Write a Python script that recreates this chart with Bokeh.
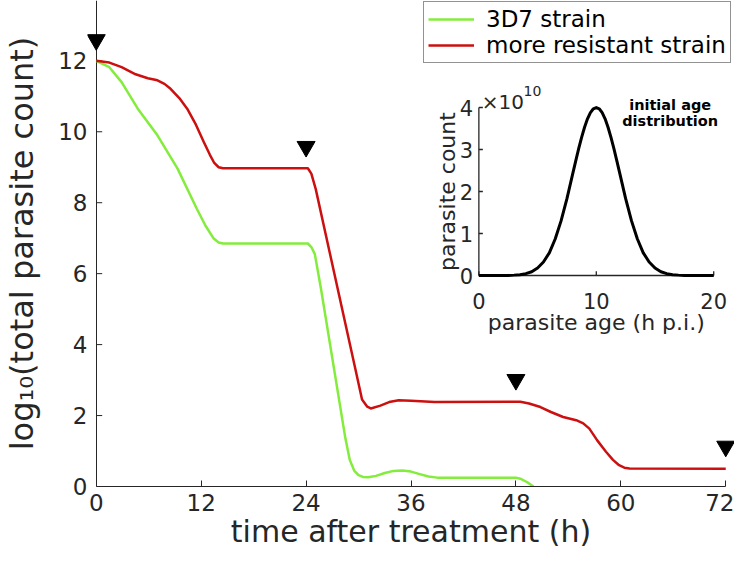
import math
from bokeh.plotting import figure
from bokeh.models import Range1d, Legend, LegendItem, FixedTicker
from bokeh.core.properties import value
from bokeh.embed import file_html
from bokeh.resources import INLINE

# ---------------- data ----------------
green_t = [0, 1.5, 2.9, 4.75, 7.0, 9.3, 11.5, 12.5, 13.4, 14.0, 14.5, 24.2, 24.6, 25.0, 25.7,
           28.5, 29.0, 29.5, 30.0, 30.5, 31.1, 32.0, 33.0, 34.0, 35.0, 36.0, 37.0, 38.0, 39.0,
           48.0, 48.5, 49.3, 50.0]
green_y = [12.0, 11.82, 11.4, 10.65, 9.9, 8.96, 7.83, 7.35, 7.0, 6.88, 6.85, 6.85, 6.75, 6.55, 5.58,
           1.35, 0.75, 0.45, 0.32, 0.27, 0.26, 0.3, 0.38, 0.44, 0.45, 0.42, 0.35, 0.28, 0.25,
           0.25, 0.22, 0.12, 0.0]

red_t = [0, 1.5, 2.9, 4.5, 5.9, 7.0, 7.8, 8.5, 9.5, 10.4, 11.4, 12.3, 13.0, 13.5, 14.0, 14.5,
         24.2, 24.6, 25.1, 29.7, 30.4, 31.0, 31.4, 32.5, 33.5, 34.6, 36.0, 38.7, 48.5, 49.5,
         50.8, 52.0, 53.4, 54.9, 55.7, 56.4, 57.3, 58.3, 59.1, 59.8, 60.4, 61.0, 72.0]
red_y = [12.0, 11.95, 11.82, 11.62, 11.51, 11.45, 11.35, 11.21, 10.95, 10.65, 10.2, 9.71, 9.35,
         9.12, 9.0, 8.97, 8.97, 8.82, 8.39, 3.24, 2.45, 2.25, 2.2, 2.28, 2.38, 2.43, 2.42, 2.38,
         2.39, 2.34, 2.24, 2.1, 1.96, 1.87, 1.78, 1.63, 1.3, 0.98, 0.75, 0.6, 0.53, 0.51, 0.5]

dose_t = [0, 24, 48, 72]
dose_mark_y = [12.59, 9.58, 3.01, 1.13]

x_ticks = [0, 12, 24, 36, 48, 60, 72]
y_ticks = [0, 2, 4, 6, 8, 10, 12]

series_labels = ["3D7 strain", "more resistant strain"]

# inset: initial age distribution (parasite count in units of 1e10)
inset_age = [0.0, 0.5, 1.0, 1.5, 2.0, 2.5, 3.0, 3.5, 4.0, 4.5, 5.0, 5.5, 6.0, 6.5, 7.0, 7.5,
             8.0, 8.25, 8.5, 8.75, 9.0, 9.25, 9.5, 9.75, 10.0, 10.25, 10.5, 10.75, 11.0, 11.25,
             11.5, 11.75, 12.0, 12.5, 13.0, 13.5, 14.0, 14.5,
             15.0, 15.5, 16.0, 16.5, 17.0, 17.5, 18.0, 18.5, 19.0, 19.5, 20.0]
inset_count = [0, 0, 0, 0, 0, 0.002, 0.009, 0.02, 0.044, 0.09, 0.18, 0.32, 0.54, 0.87, 1.30,
               1.83, 2.43, 2.73, 3.02, 3.29, 3.53, 3.73, 3.88, 3.97, 4.0, 3.97, 3.88, 3.73,
               3.53, 3.29, 3.02, 2.73, 2.43, 1.83, 1.30, 0.87,
               0.54, 0.32, 0.18, 0.09, 0.044, 0.02, 0.009, 0.002, 0, 0, 0, 0, 0]
inset_xticks = [0, 10, 20]
inset_yticks = [0, 1, 2, 3, 4]

# ---------------- style ----------------
FONT = "DejaVu Sans"
TXT = "#262626"
GREEN = "#84EC3C"
RED = "#CC1010"

p = figure(width=734, height=555, output_backend="svg", toolbar_location=None,
           x_range=Range1d(-1, 73), y_range=Range1d(0, 13.7),
           min_border_left=81, min_border_right=0, min_border_top=0, min_border_bottom=69)
p.outline_line_color = None
p.grid.grid_line_color = None
p.background_fill_color = "white"
p.border_fill_color = "white"

p.extra_x_ranges = {"ix": Range1d(-33.33, 21.77)}
p.extra_y_ranges = {"iy": Range1d(-5.024, 6.548)}

# x axis
xa = p.xaxis[0]
xa.ticker = FixedTicker(ticks=x_ticks)
xa.bounds = (x_ticks[0], x_ticks[-1])
xa.major_tick_in = 6
xa.major_tick_out = 0
xa.minor_tick_line_color = None
xa.axis_line_color = TXT
xa.major_tick_line_color = TXT
xa.major_label_text_font = FONT
xa.major_label_text_font_size = "23px"
xa.major_label_text_color = TXT
xa.major_label_standoff = 7
xa.axis_label = "time after treatment (h)"
xa.axis_label_text_font = FONT
xa.axis_label_text_font_size = "30px"
xa.axis_label_text_font_style = "normal"
xa.axis_label_text_color = TXT
xa.axis_label_standoff = 0

# y axis: labels from the real axis, line and ticks drawn at t = 0
ya = p.yaxis[0]
ya.ticker = FixedTicker(ticks=y_ticks)
ya.axis_line_color = None
ya.major_tick_line_color = None
ya.minor_tick_line_color = None
ya.major_tick_in = 0
ya.major_tick_out = 0
ya.major_label_text_font = FONT
ya.major_label_text_font_size = "23px"
ya.major_label_text_color = TXT
ya.major_label_standoff = 0
ya.axis_label = "log\u2081\u2080(total parasite count)"
ya.axis_label_text_font = FONT
ya.axis_label_text_font_size = "32px"
ya.axis_label_text_font_style = "normal"
ya.axis_label_text_color = TXT
ya.axis_label_standoff = 14

p.vspan(x=[x_ticks[0]], line_color=TXT, line_width=1)
p.segment(x0=[x_ticks[0]] * len(y_ticks), y0=y_ticks,
          x1=[x_ticks[0] + 0.68] * len(y_ticks), y1=y_ticks,
          line_color=TXT, line_width=1)

# main curves
r_g = p.line(green_t, green_y, line_color=GREEN, line_width=2.5, line_join="round")
r_r = p.line(red_t, red_y, line_color=RED, line_width=2.5, line_join="round")

# dose markers
p.scatter(dose_t, dose_mark_y, marker="inverted_triangle", size=18,
          fill_color="black", line_color="black")

legend = Legend(items=[LegendItem(label=series_labels[0], renderers=[r_g]),
                       LegendItem(label=series_labels[1], renderers=[r_r])],
                location=(336, 423), padding=4, spacing=0, margin=0,
                glyph_width=46, glyph_height=20, label_standoff=12,
                label_text_font=FONT, label_text_font_size="23px", label_text_color="black",
                border_line_color=TXT, border_line_width=1,
                background_fill_color="white", background_fill_alpha=1.0)
p.add_layout(legend)

# ---------------- inset ----------------
ik = dict(x_range_name="ix", y_range_name="iy")
p.line([inset_xticks[0], inset_xticks[0]], [inset_yticks[0], inset_yticks[-1]],
       line_color=TXT, line_width=1.3, **ik)
p.line([inset_xticks[0], inset_xticks[-1]], [inset_yticks[0], inset_yticks[0]],
       line_color=TXT, line_width=1.3, **ik)
p.segment(x0=[inset_xticks[0]] * len(inset_yticks), y0=inset_yticks,
          x1=[inset_xticks[0] + 0.34] * len(inset_yticks), y1=inset_yticks,
          line_color=TXT, line_width=1.3, **ik)
p.segment(x0=inset_xticks, y0=[inset_yticks[0]] * len(inset_xticks),
          x1=inset_xticks, y1=[inset_yticks[0] + 0.1] * len(inset_xticks),
          line_color=TXT, line_width=1.3, **ik)
p.line(inset_age, inset_count, line_color="black", line_width=3, line_join="round", **ik)

p.text(x=[-0.5] * len(inset_yticks), y=inset_yticks, text=[str(v) for v in inset_yticks],
       text_font=value(FONT), text_font_size=value("21px"), text_color=TXT,
       text_align="right", text_baseline="middle", **ik)
p.text(x=inset_xticks, y=[-0.6] * len(inset_xticks), text=[str(v) for v in inset_xticks],
       text_font=value(FONT), text_font_size=value("21px"), text_color=TXT,
       text_align="center", text_baseline="alphabetic", **ik)
p.text(x=[10], y=[-1.12], text=["parasite age (h p.i.)"], text_font=value(FONT),
       text_font_size=value("22px"), text_color=TXT, text_align="center",
       text_baseline="alphabetic", **ik)
p.text(x=[-2.7], y=[2.0], text=["parasite count"], angle=math.pi / 2, text_font=value(FONT),
       text_font_size=value("22px"), text_color=TXT, text_align="center",
       text_baseline="alphabetic", **ik)
p.text(x=[0.25], y=[4.14], text=["\u00d710"], text_font=value(FONT),
       text_font_size=value("20px"), text_color=TXT, text_align="left",
       text_baseline="alphabetic", **ik)
p.text(x=[3.8], y=[4.40], text=["10"], text_font=value(FONT),
       text_font_size=value("14px"), text_color=TXT, text_align="left",
       text_baseline="alphabetic", **ik)
p.text(x=[16.29, 16.29], y=[4.05, 3.67], text=["initial age", "distribution"],
       text_font=value(FONT), text_font_size=value("14.5px"), text_font_style="bold",
       text_color="black", text_align="center", text_baseline="alphabetic", **ik)

open("out.html", "w").write(file_html(p, INLINE))
